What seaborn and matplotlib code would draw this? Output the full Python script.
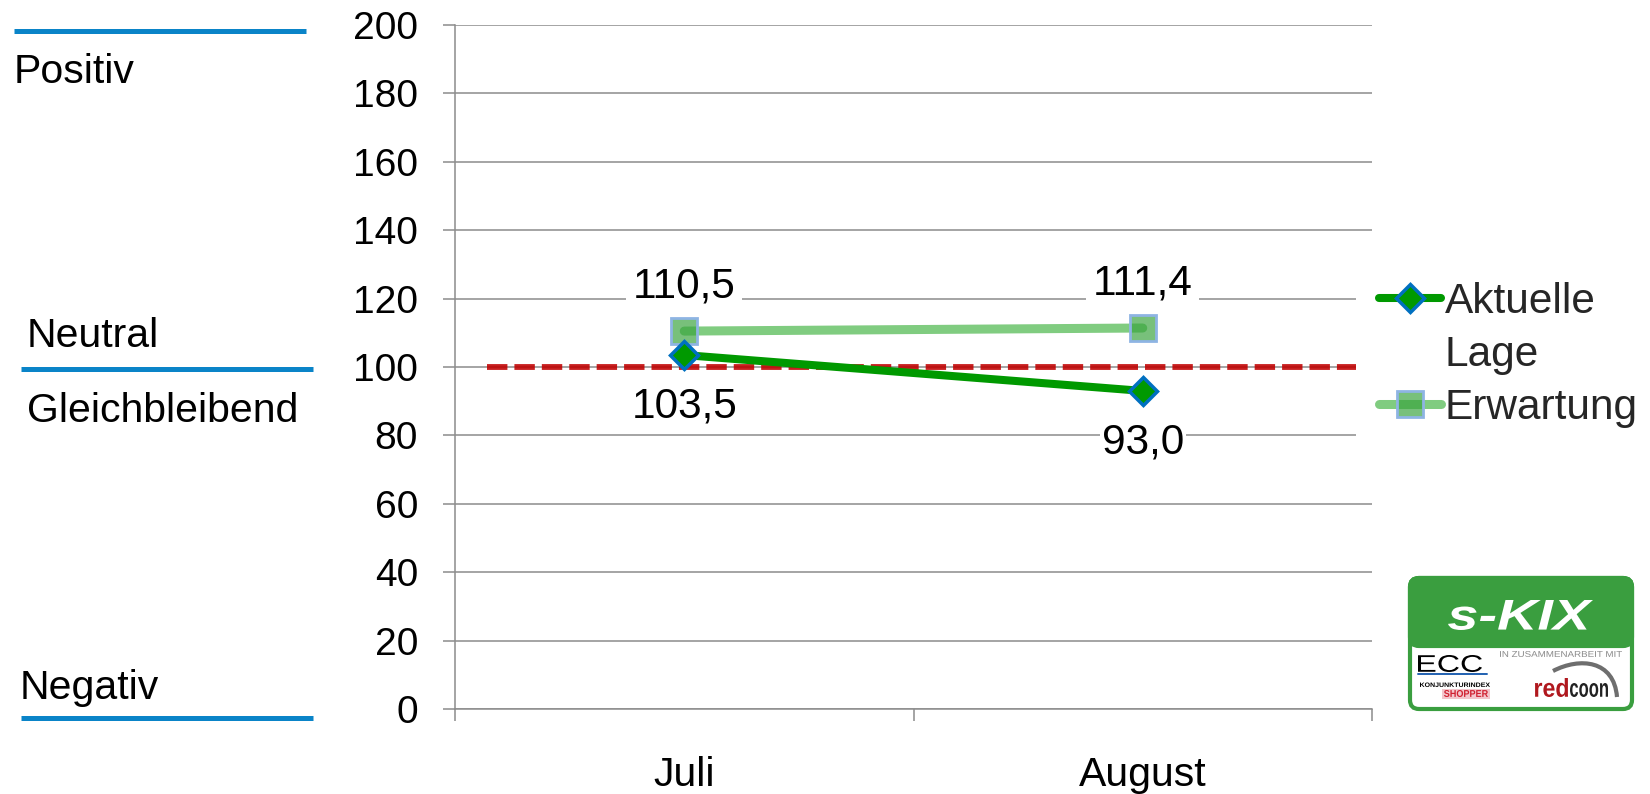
import matplotlib
matplotlib.use("Agg")
import matplotlib.pyplot as plt
from matplotlib.lines import Line2D
from matplotlib.patches import FancyBboxPatch, Rectangle, PathPatch
from matplotlib.path import Path
from matplotlib.textpath import TextPath
from matplotlib.font_manager import FontProperties
from matplotlib.transforms import Affine2D
import pandas as pd
import seaborn as sns

# ---- data ----
months = ["Juli", "August"]
aktuelle_lage = [103.5, 93.0]
erwartung = [110.5, 111.4]
neutral_level = 100
y_ticks = [0, 20, 40, 60, 80, 100, 120, 140, 160, 180, 200]
side_labels = ["Positiv", "Neutral", "Gleichbleibend", "Negativ"]

sns.set_theme(style="white")
plt.rcParams["font.family"] = ["Liberation Sans", "DejaVu Sans"]

W, H = 1650, 794
fig = plt.figure(figsize=(W / 100, H / 100), dpi=100)
ax = fig.add_axes([455 / W, 1 - 709 / H, (1372 - 455) / W, (709 - 25) / H])

GRID = "#8C8C8C"
FS_TICK = 28
FS = 30.5

df_akt = pd.DataFrame({"Monat": months, "Wert": aktuelle_lage})
df_erw = pd.DataFrame({"Monat": months, "Wert": erwartung})

# neutral reference line
ax.plot([-0.43, 1.5], [neutral_level, neutral_level], color="#C00000",
        lw=4.2, dashes=(3.5, 1.2), alpha=0.88, zorder=2)

sns.lineplot(data=df_erw, x="Monat", y="Wert", ax=ax, sort=False,
             color="#80CC80", linewidth=6.5, marker="s", markersize=19,
             markerfacecolor=(0.22, 0.64, 0.24, 0.68), markeredgecolor="#8EB4E3",
             markeredgewidth=2, solid_capstyle="round", label="Erwartung", zorder=3)
sns.lineplot(data=df_akt, x="Monat", y="Wert", ax=ax, sort=False,
             color="#009900", linewidth=5.8, marker="D", markersize=14,
             markerfacecolor="#009900", markeredgecolor="#0070C0",
             markeredgewidth=2.5, solid_capstyle="round", label="Aktuelle", zorder=4)

# value labels
def fmt(v):
    return f"{v:.1f}".replace(".", ",")

for i, (a, e) in enumerate(zip(aktuelle_lage, erwartung)):
    ax.annotate(fmt(e), xy=(i, e), xytext=(0, 32), textcoords="offset points",
                ha="center", va="center", fontsize=FS, color="black", zorder=6,
                bbox=dict(fc="white", ec="none", pad=5))
    ax.annotate(fmt(a), xy=(i, a), xytext=(0, -37), textcoords="offset points",
                ha="center", va="center", fontsize=FS, color="black", zorder=6,
                bbox=dict(fc="white", ec="none", pad=1.5))

# axes styling
ax.set_xlim(-0.5, 1.5)
ax.set_ylim(0, 200)
ax.set_yticks(y_ticks)
ax.set_xticks([0, 1])
ax.set_xticklabels(months)
ax.set_xticks([-0.5, 0.5, 1.5], minor=True)
ax.set_xlabel("")
ax.set_ylabel("")
ax.grid(axis="y", color=GRID, lw=1.1)
ax.grid(axis="x", visible=False)
ax.set_axisbelow(True)
for s in ["top", "right"]:
    ax.spines[s].set_visible(False)
for s in ["left", "bottom"]:
    ax.spines[s].set_color(GRID)
    ax.spines[s].set_linewidth(1.1)
ax.tick_params(axis="y", which="major", length=8.6, width=1.1, color=GRID,
               pad=18, labelsize=FS_TICK, labelcolor="black", left=True)
ax.tick_params(axis="x", which="major", length=0, pad=34, labelsize=29.5,
               labelcolor="black")
ax.tick_params(axis="x", which="minor", length=8.6, width=1.1, color=GRID,
               bottom=True)

# legend (label split over two rows, handle on the first)
lines = {l.get_label(): l for l in ax.get_lines()}
blank = Line2D([], [], lw=0, marker=None)
ax.legend(handles=[lines["Aktuelle"], blank, lines["Erwartung"]],
          labels=["Aktuelle", "Lage", "Erwartung"],
          loc="upper left", bbox_to_anchor=(1356 / W, 1 - 259 / H),
          bbox_transform=fig.transFigure, fontsize=FS, frameon=True,
          facecolor="white", edgecolor="none", framealpha=1, fancybox=False,
          borderpad=0.55, borderaxespad=0, handlelength=1.45,
          handletextpad=0.1, labelspacing=0.3)

# overlay in pixel coordinates for side labels and badge
ov = fig.add_axes([0, 0, 1, 1], zorder=10)
ov.set_xlim(0, W)
ov.set_ylim(H, 0)
ov.axis("off")
ov.patch.set_alpha(0)

BLUE = "#0A84C8"
for x0, x1, y in [(14, 306, 31), (21, 313, 369), (21, 313, 718)]:
    ov.plot([x0, x1], [y, y], color=BLUE, lw=3.6, solid_capstyle="butt")
for txt, x, y in zip(side_labels, [14, 27, 27, 20], [83, 347, 422, 699]):
    ov.text(x, y, txt, fontsize=FS - 1, color="black", ha="left", va="baseline")


def fitted_text(s, x0, x1, y_top, y_bot, color, weight="normal", style="normal"):
    """Draw text as a path stretched into the given pixel box."""
    tp = TextPath((0, 0), s, size=10,
                  prop=FontProperties(family="Liberation Sans", weight=weight, style=style))
    ext = tp.get_extents()
    tr = (Affine2D().translate(-ext.x0, -ext.y1)
          .scale((x1 - x0) / ext.width, -(y_bot - y_top) / ext.height)
          .translate(x0, y_top))
    ov.add_patch(PathPatch(tr.transform_path(tp), fc=color, ec="none", lw=0))


# s-KIX badge
GREEN = "#3A9E3F"
ov.add_patch(FancyBboxPatch((1410, 578), 222, 131,
                            boxstyle="round,pad=0,rounding_size=9",
                            fc="white", ec=GREEN, lw=3))
ov.add_patch(FancyBboxPatch((1410, 578), 222, 68,
                            boxstyle="round,pad=0,rounding_size=9",
                            fc=GREEN, ec=GREEN, lw=3))
ov.add_patch(Rectangle((1410, 624), 222, 22, fc=GREEN, ec="none"))
fitted_text("s-KIX", 1448, 1593, 600, 630, "white", weight="bold", style="italic")
fitted_text("IN ZUSAMMENARBEIT MIT", 1500, 1622, 651, 657, "#8A8A8A")
fitted_text("ECC", 1418, 1482, 655, 672, "black")
ov.plot([1418, 1487], [674, 674], color="#2060B0", lw=1.4)
fitted_text("KONJUNKTURINDEX", 1420, 1490, 682.5, 687, "black", weight="bold")
ov.add_patch(Rectangle((1442, 688.5), 48, 10, fc="#F3C6CC", ec="none"))
fitted_text("SHOPPER", 1444, 1488, 690, 697, "#D02030", weight="bold")
fitted_text("red", 1535, 1568, 678, 697, "#B0181E", weight="bold")
fitted_text("coon", 1570, 1608, 683, 697, "#222222", weight="bold")
swoosh = Path([(1553, 671), (1580, 657), (1614, 660), (1617, 697)],
              [Path.MOVETO, Path.CURVE4, Path.CURVE4, Path.CURVE4])
ov.add_patch(PathPatch(swoosh, fc="none", ec="#6E6E6E", lw=3))

fig.savefig("out.png", dpi=100)
